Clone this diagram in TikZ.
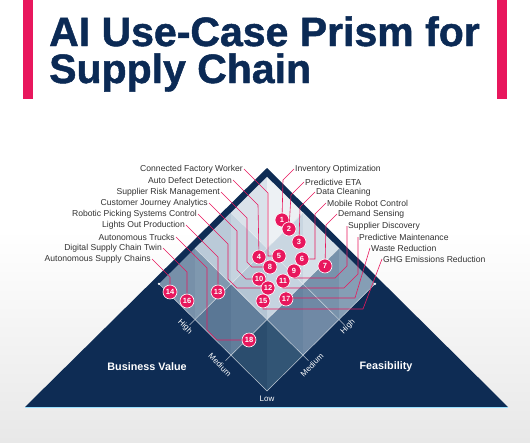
\documentclass[tikz,border=0pt]{standalone}
\usepackage{fontspec}
\setmainfont{Liberation Sans}
\newfontface\titlefont{Liberation Sans Bold}[FakeBold=1.2]
\definecolor{navy}{HTML}{0E2C54}
\definecolor{titleblue}{HTML}{0B2A55}
\definecolor{hot}{HTML}{E8175D}
\definecolor{ink}{HTML}{333333}
\definecolor{caL}{HTML}{2B4D6E}\definecolor{caR}{HTML}{325575}
\definecolor{cbL}{HTML}{5A7795}\definecolor{cbR}{HTML}{617E9B}
\definecolor{ccL}{HTML}{6783A0}\definecolor{ccR}{HTML}{7089A5}
\definecolor{cdL}{HTML}{7790A9}\definecolor{cdR}{HTML}{7F98AF}
\definecolor{ceL}{HTML}{B4C5D4}\definecolor{ceR}{HTML}{C6D4E0}
\definecolor{cfL}{HTML}{7892AB}\definecolor{cfR}{HTML}{859EB5}
\definecolor{cgL}{HTML}{BACAD8}\definecolor{cgR}{HTML}{C5D3DF}
\definecolor{chL}{HTML}{C9D6E1}\definecolor{chR}{HTML}{D6E0E8}
\definecolor{ciL}{HTML}{DAE2EA}\definecolor{ciR}{HTML}{EDF1F4}
\begin{document}
\begin{tikzpicture}[x=1pt,y=-1pt,>=latex,
    lab/.style={font=\fontsize{8.6}{9}\selectfont,text=ink,inner sep=1pt},
    num/.style={circle,fill=hot,draw=white,line width=0.6pt,minimum size=14pt,inner sep=0pt,
      text=white,font=\bfseries\fontsize{7.5}{8}\selectfont},
    lead/.style={hot,line width=0.6pt},
    level/.style={text=white,font=\fontsize{8}{9}\selectfont,inner sep=1pt},
    face/.style={text=white,font=\bfseries\fontsize{10.8}{12}\selectfont},
    heading/.style={anchor=base west,inner sep=0pt,text=titleblue,font=\titlefont\fontsize{41}{41}\selectfont},
    grid/.style={white,opacity=0.7,line width=0.5pt}]
  \useasboundingbox (0,0) rectangle (530,442);
  % background and title
  \fill[white] (0,0) rectangle (530,442);
  \shade[top color=white,bottom color=gray!18] (0,230) rectangle (530,442);
  \fill[hot] (23,0) rectangle (33,99);
  \fill[hot] (497,0) rectangle (507,99);
  \path (49,46) node[heading] (t1) {AI Use-Case Prism for}
        (49,83) node[heading] (t2) {Supply Chain};
  % prism
  \fill[navy] (25,407) -- (267,168) -- (508,407) -- cycle;
  \draw[blue!30!cyan!40,line width=0.8pt] (25,407.5) -- (508,407.5);
  \begin{scope}[shift={(267,391)},x={(-36pt,35.7pt)},y={(36pt,35.7pt)}]
    \foreach \i/\j/\cl/\cr in {0/0/caL/caR,1/0/cbL/cbR,0/1/ccL/ccR,2/0/cdL/cdR,1/1/ceL/ceR,
        0/2/cfL/cfR,2/1/cgL/cgR,1/2/chL/chR,2/2/ciL/ciR}{
      \fill[\cl] (\i,\j) -- (\i+1,\j) -- (\i+1,\j+1) -- cycle;
      \fill[\cr] (\i,\j) -- (\i+1,\j+1) -- (\i,\j+1) -- cycle;
    }
    \foreach \k in {1,2}{
      \draw[grid] (\k,-0.15) -- (\k,3);
      \draw[grid] (-0.15,\k) -- (3,\k);
    }
    \draw[grid] (3,0) -- (0,0) -- (0,3);
    \fill[white] (3,0) circle (1.3pt) (0,3) circle (1.3pt);
  \end{scope}
  \path (185,327) node[level,rotate=-45] (bvh) {High}
        (220,365) node[level,rotate=-45] (bvm) {Medium}
        (267,399) node[level] (low) {Low}
        (312,365) node[level,rotate=45] (fem) {Medium}
        (348,327) node[level,rotate=45] (feh) {High};
  \path (147,367) node[face] (bv) {Business Value}
        (386,367) node[face] (fe) {Feasibility};
  % use cases
  \path (244,169) node[lab,anchor=east] (cfw) {Connected Factory Worker}
        (233,180) node[lab,anchor=east] (add) {Auto Defect Detection}
        (221,192) node[lab,anchor=east] (srm) {Supplier Risk Management}
        (209,203) node[lab,anchor=east] (cja) {Customer Journey Analytics}
        (198,214) node[lab,anchor=east] (rpc) {Robotic Picking Systems Control}
        (186,225) node[lab,anchor=east] (lop) {Lights Out Production}
        (176,237) node[lab,anchor=east] (aut) {Autonomous Trucks}
        (163,248) node[lab,anchor=east] (dst) {Digital Supply Chain Twin}
        (152,259) node[lab,anchor=east] (asc) {Autonomous Supply Chains};
  \path (294,169) node[lab,anchor=west] (inv) {Inventory Optimization}
        (304,182) node[lab,anchor=west] (eta) {Predictive ETA}
        (315,192) node[lab,anchor=west] (dcl) {Data Cleaning}
        (326,203) node[lab,anchor=west] (mrc) {Mobile Robot Control}
        (337,214) node[lab,anchor=west] (dse) {Demand Sensing}
        (347,226) node[lab,anchor=west] (sdi) {Supplier Discovery}
        (358,237) node[lab,anchor=west] (pma) {Predictive Maintenance}
        (370,248) node[lab,anchor=west] (wre) {Waste Reduction}
        (382,259) node[lab,anchor=west] (ghg) {GHG Emissions Reduction};
  \path (282,220) node[num] (m1) {1}   (289,229) node[num] (m2) {2}
        (299,242) node[num] (m3) {3}   (259,257) node[num] (m4) {4}
        (279,256) node[num] (m5) {5}   (302,259) node[num] (m6) {6}
        (325,266) node[num] (m7) {7}   (270,267) node[num] (m8) {8}
        (294,271) node[num] (m9) {9}   (259,279) node[num] (m10) {10}
        (283,281) node[num] (m11) {11} (268,288) node[num] (m12) {12}
        (218,292) node[num] (m13) {13} (170,292) node[num] (m14) {14}
        (263,301) node[num] (m15) {15} (187,301) node[num] (m16) {16}
        (286,299) node[num] (m17) {17} (249,340) node[num] (m18) {18};
  % leaders
  \draw[lead] (cfw.east) -- ++(24,24) |- (m5);
  \draw[lead] (add.east) -- ++(25,25) -- (m4);
  \draw[lead] (srm.east) -- ++(26,26) -- ++(0,44) -- ++(5,5) -- (m8);
  \draw[lead] (cja.east) -- ++(28,28) -- ++(0,39) -- ++(9,9) -- (m10);
  \draw[lead] (rpc.east) -- ++(30,30) -- ++(0,35) -- ++(9,9) -- (m12);
  \draw[lead] (lop.east) -- ++(32,32) -- (m13);
  \draw[lead] (aut.east) -- ++(31,31) -- ++(0,62) -- ++(10,10) -- (m18);
  \draw[lead] (dst.east) -- ++(24,24) -- (m16);
  \draw[lead] (asc.east) -- ++(18,18) -- (m14);
  \draw[lead] (inv.west) -- ++(-11,11) -- (m1);
  \draw[lead] (eta.west) -- ++(-13,13) -- (m2);
  \draw[lead] (dcl.west) -- ++(-15,15) -- (m3);
  \draw[lead] (mrc.west) -- ++(-11,11) |- (m6);
  \draw[lead] (dse.west) -- ++(-11,11) -- (m7);
  \draw[lead] (sdi.west) -- ++(0,40) -- ++(-12,12) -| (m9);
  \draw[lead] (pma.west) -- ++(0,37) -- ++(-14,14) -| (m11);
  \draw[lead] (wre.west) -- ++(-15,50) -| (m17);
  \draw[lead] (ghg.west) -- ++(-19,50) -| (m15);
\end{tikzpicture}
\end{document}
